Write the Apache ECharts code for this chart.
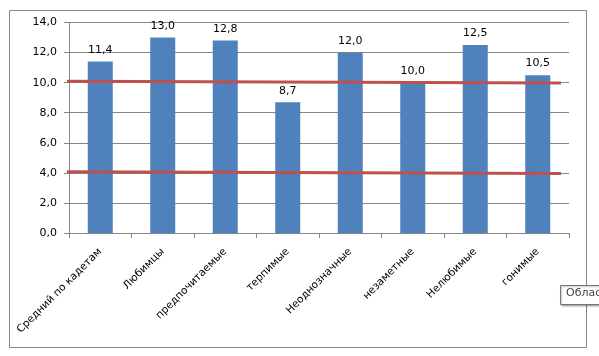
<!DOCTYPE html>
<html><head><meta charset="utf-8">
<script src="https://cdn.jsdelivr.net/npm/echarts@6/dist/echarts.min.js"></script>
<style>html,body{margin:0;padding:0;background:#fff}#c{width:599px;height:356px}</style>
</head><body><div id="c"></div>
<script>
var categories = ["Средний по кадетам","Любимцы","предпочитаемые","терпимые","Неоднозначные","незаметные","Нелюбимые","гонимые"];
var values = [11.4, 13.0, 12.8, 8.7, 12.0, 10.0, 12.5, 10.5];
var upperLine = [10.1, 9.97];
var lowerLine = [4.08, 3.95];
var lineX = [-0.8, 98.4];
var yTicks = {min: 0, max: 14, interval: 2};

var fmt = function(v){ return Number(v).toFixed(1).replace('.', ','); };
var chart = echarts.init(document.getElementById('c'), null, {renderer: 'canvas'});
var font = 'DejaVu Sans';
chart.setOption({
  animation: false,
  textStyle: {fontFamily: font},
  grid: {left: 69, right: 30, top: 22.5, bottom: 123},
  xAxis: [{
    type: 'category', data: categories,
    axisLine: {lineStyle: {color: '#868686'}},
    axisTick: {show: true, length: 5, lineStyle: {color: '#868686'}},
    axisLabel: {rotate: 45, color: '#000', fontSize: 10.5, fontFamily: font, margin: 17, interval: 0}
  }, {
    type: 'value', min: 0, max: 100, show: false
  }],
  yAxis: {
    type: 'value', min: yTicks.min, max: yTicks.max, interval: yTicks.interval,
    axisLine: {show: true, lineStyle: {color: '#868686'}},
    axisTick: {show: true, length: 5, lineStyle: {color: '#868686'}},
    splitLine: {lineStyle: {color: '#868686'}},
    axisLabel: {color: '#000', fontSize: 11, fontFamily: font, margin: 12, formatter: fmt}
  },
  series: [{
    type: 'bar', data: values, barWidth: 25,
    itemStyle: {color: '#4F81BD'},
    label: {show: true, position: 'top', distance: 6, color: '#000', fontSize: 11, fontFamily: font, formatter: function(p){return fmt(p.value);}}
  }, {
    type: 'line', xAxisIndex: 1, clip: false, symbol: 'none',
    data: [[lineX[0], upperLine[0]], [lineX[1], upperLine[1]]],
    lineStyle: {color: '#C0504D', width: 3}
  }, {
    type: 'line', xAxisIndex: 1, clip: false, symbol: 'none',
    data: [[lineX[0], lowerLine[0]], [lineX[1], lowerLine[1]]],
    lineStyle: {color: '#C0504D', width: 3}
  }],
  graphic: [{
    type: 'rect', left: 7, top: 8, shape: {width: 577, height: 337},
    style: {fill: 'none', stroke: '#868686', lineWidth: 1}, z: -1
  }, {
    type: 'rect', left: 560, top: 285, shape: {width: 120, height: 19},
    style: {fill: '#fff', stroke: '#767676', lineWidth: 1, shadowBlur: 2, shadowOffsetX: 1, shadowOffsetY: 1, shadowColor: 'rgba(0,0,0,0.3)'}, z: 100
  }, {
    type: 'text', left: 566, top: 288,
    style: {text: 'Область диаграммы', fill: '#444', fontSize: 11, fontFamily: font}, z: 101
  }]
});
</script></body></html>
